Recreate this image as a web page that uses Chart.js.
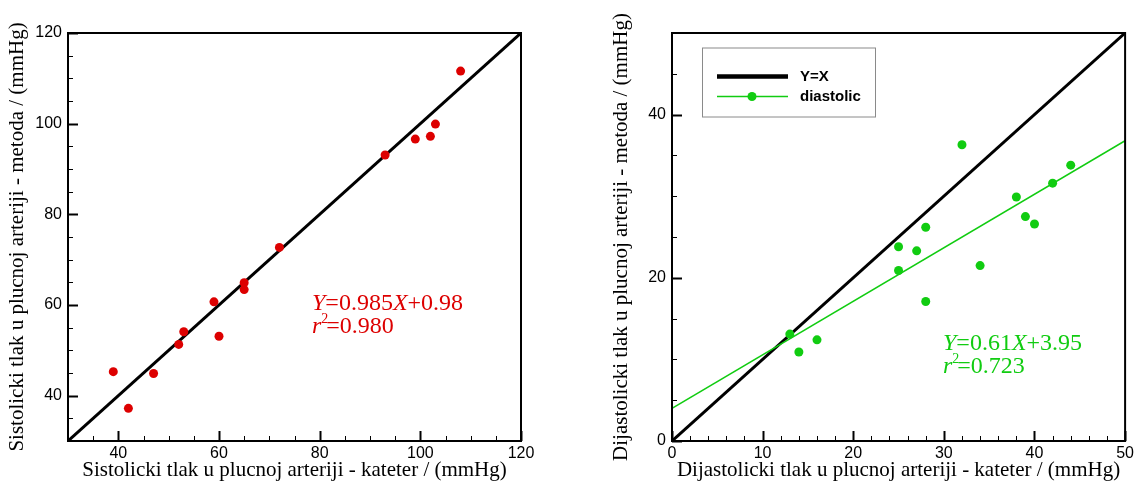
<!DOCTYPE html>
<html><head><meta charset="utf-8">
<script src="https://cdn.jsdelivr.net/npm/chart.js@4.4.1/dist/chart.umd.min.js"></script>
<style>
html,body{margin:0;padding:0;background:#fff;width:1137px;height:483px;overflow:hidden}
.box{position:absolute;top:0;height:483px}
#b1{left:0;width:570px}
#b2{left:570px;width:567px}
</style></head><body>
<div class="box" id="b1"><canvas id="c1"></canvas></div>
<div class="box" id="b2"><canvas id="c2"></canvas></div>
<script>
// ---- data ----
const sysKateter = [39, 42, 47, 52, 53, 59, 60, 65, 65, 72, 93, 99, 102, 103, 108];
const sysMetoda  = [45.3, 37.2, 44.9, 51.3, 54.1, 60.7, 53.1, 64.9, 63.4, 72.7, 93.1, 96.6, 97.2, 99.9, 111.6];
const diaKateter = [13, 14, 16, 25, 25, 27, 28, 28, 32, 34, 38, 39, 40, 42, 44];
const diaMetoda  = [13.1, 10.9, 12.4, 23.8, 20.9, 23.3, 26.2, 17.1, 36.3, 21.5, 29.9, 27.5, 26.6, 31.6, 33.8];
const sysIdentityX = [30, 120];
const sysIdentityY = [30, 120];
const diaIdentityX = [0, 50];
const diaIdentityY = [0, 50];
const diaFitX = [0, 50];
const diaFitY = [4.0, 36.8];
const sysXTicks = [40, 60, 80, 100, 120];
const sysYTicks = [40, 60, 80, 100, 120];
const diaXTicks = [0, 10, 20, 30, 40, 50];
const diaYTicks = [0, 20, 40];
const sysEquation = [['Y', true], ['=0.985', false], ['X', true], ['+0.98', false]];
const sysR2 = '=0.980';
const diaEquation = [['Y', true], ['=0.61', false], ['X', true], ['+3.95', false]];
const diaR2 = '=0.723';
const sysXTitle = 'Sistolicki tlak u plucnoj arteriji - kateter / (mmHg)';
const sysYTitle = 'Sistolicki tlak u plucnoj arteriji - metoda / (mmHg)';
const diaXTitle = 'Dijastolicki tlak u plucnoj arteriji - kateter / (mmHg)';
const diaYTitle = 'Dijastolicki tlak u plucnoj arteriji - metoda / (mmHg)';
const identityLabel = 'Y=X';
const diaLabel = 'diastolic';

// ---- styles ----
const RED = '#dd0000';
const GREEN = '#11cc11';
const SERIF = '"Liberation Serif", "Times New Roman", serif';
const SANS = '"Liberation Sans", Arial, sans-serif';

const pts = (xs, ys) => xs.map((x, i) => ({x: x, y: ys[i]}));

const boxTicks = {
  id: 'boxTicks',
  afterDatasetsDraw(chart, args, o) {
    const {ctx, chartArea: a, scales: {x, y}} = chart;
    ctx.save();
    ctx.strokeStyle = '#000';
    const eps = 1e-6;
    for (let v = x.min; v <= x.max + eps; v += o.xMinor) {
      const major = o.xMajor.some(m => Math.abs(m - v) < eps);
      const px = Math.round(x.getPixelForValue(v)) + 0.5;
      ctx.lineWidth = major ? 2 : 1;
      ctx.beginPath(); ctx.moveTo(px, a.bottom); ctx.lineTo(px, a.bottom - (major ? 10 : 5)); ctx.stroke();
    }
    for (let v = y.min; v <= y.max + eps; v += o.yMinor) {
      const major = o.yMajor.some(m => Math.abs(m - v) < eps);
      const py = Math.round(y.getPixelForValue(v)) + 0.5;
      ctx.lineWidth = major ? 2 : 1;
      ctx.beginPath(); ctx.moveTo(a.left, py); ctx.lineTo(a.left + (major ? 10 : 5), py); ctx.stroke();
    }
    ctx.lineWidth = 2;
    ctx.strokeRect(a.left, a.top, a.right - a.left, a.bottom - a.top);
    ctx.restore();
  }
};

function drawRich(ctx, parts, x, y, size) {
  let cx = x;
  parts.forEach(([t, it]) => {
    ctx.font = (it ? 'italic ' : '') + size + 'px ' + SERIF;
    ctx.fillText(t, cx, y);
    cx += ctx.measureText(t).width;
  });
}

const equationText = {
  id: 'equationText',
  afterDatasetsDraw(chart, args, o) {
    const {ctx, chartArea: a} = chart;
    ctx.save();
    ctx.fillStyle = o.color;
    ctx.textBaseline = 'alphabetic';
    ctx.textAlign = 'left';
    const x0 = a.left + o.dx, y0 = a.top + o.dy;
    drawRich(ctx, o.eq, x0, y0, 24);
    const y1 = y0 + 23;
    ctx.font = 'italic 24px ' + SERIF;
    ctx.fillText('r', x0, y1);
    let cx = x0 + ctx.measureText('r').width;
    ctx.font = '14px ' + SERIF;
    ctx.fillText('2', cx, y1 - 10);
    cx += ctx.measureText('2').width * 0.7;
    ctx.font = '24px ' + SERIF;
    ctx.fillText(o.r2, cx, y1);
    ctx.restore();
  }
};

const boxLegend = {
  id: 'boxLegend',
  afterDraw(chart, args, o) {
    if (!o.show) return;
    const {ctx, chartArea: a} = chart;
    const ds = chart.data.datasets;
    const L = a.left + 30, T = a.top + 14.5;
    ctx.save();
    ctx.strokeStyle = '#8a8a8a';
    ctx.lineWidth = 1;
    ctx.fillStyle = '#fff';
    ctx.fillRect(L, T, 174, 70);
    ctx.strokeRect(L + 0.5, T + 0.5, 173, 69);
    const idLine = ds.find(d => d.label === identityLabel);
    const sc = ds.find(d => d.label === diaLabel);
    ctx.strokeStyle = idLine.borderColor; ctx.lineWidth = 4.5;
    ctx.beginPath(); ctx.moveTo(L + 15, T + 29); ctx.lineTo(L + 86, T + 29); ctx.stroke();
    ctx.strokeStyle = sc.backgroundColor; ctx.lineWidth = 1.5;
    ctx.beginPath(); ctx.moveTo(L + 15, T + 49); ctx.lineTo(L + 86, T + 49); ctx.stroke();
    ctx.fillStyle = sc.backgroundColor;
    ctx.beginPath(); ctx.arc(L + 50, T + 49, 4.5, 0, Math.PI * 2); ctx.fill();
    ctx.fillStyle = '#000';
    ctx.font = 'bold 15px ' + SANS;
    ctx.textBaseline = 'middle';
    ctx.fillText(idLine.label, L + 98, T + 29);
    ctx.fillText(sc.label, L + 98, T + 49);
    ctx.restore();
  }
};

function axis(min, max, tickArr, title, isY, width) {
  const s = {
    type: 'linear', min: min, max: max,
    afterBuildTicks: sc => { sc.ticks = tickArr.map(v => ({value: v})); },
    grid: {display: false, drawTicks: false},
    border: {display: false},
    ticks: {color: '#000', font: {family: SANS, size: 16}, padding: isY ? 6 : 3, maxRotation: 0, autoSkip: false},
    title: {display: true, text: title, color: '#000', font: {family: SERIF, size: 21, lineHeight: 1.2},
            padding: isY ? {top: 5, bottom: 0} : {top: 0, bottom: 0}}
  };
  if (isY) s.afterFit = sc => { sc.width = width; };
  else s.afterFit = sc => { sc.height = 42; };
  return s;
}

function make(id, datasets, xs, ys, pad, tickOpts, eqOpts, legendShow) {
  return new Chart(document.getElementById(id), {
    type: 'scatter',
    data: {datasets: datasets},
    options: {
      responsive: true, maintainAspectRatio: false, animation: false,
      layout: {padding: pad},
      scales: {x: xs, y: ys},
      plugins: {legend: {display: false}, tooltip: {enabled: false},
        boxTicks: tickOpts, equationText: eqOpts, boxLegend: {show: legendShow}},
      elements: {line: {tension: 0}}
    },
    plugins: [boxTicks, equationText, boxLegend]
  });
}

make('c1', [
  {label: 'systolic', data: pts(sysKateter, sysMetoda), backgroundColor: RED, borderWidth: 0, pointRadius: 4.5, showLine: false},
  {label: identityLabel, data: pts(sysIdentityX, sysIdentityY), showLine: true, borderColor: '#000', borderWidth: 3, pointRadius: 0, backgroundColor: '#000'}
], axis(30, 120, sysXTicks, sysXTitle, false), axis(30, 120, sysYTicks, sysYTitle, true, 68),
  {left: 0, right: 49, top: 33, bottom: 0},
  {xMinor: 5, xMajor: sysXTicks, yMinor: 5, yMajor: sysYTicks},
  {color: RED, eq: sysEquation, r2: sysR2, dx: 244, dy: 277}, false);

make('c2', [
  {label: diaLabel, data: pts(diaKateter, diaMetoda), backgroundColor: GREEN, borderWidth: 0, pointRadius: 4.5, showLine: false},
  {label: 'fit', data: pts(diaFitX, diaFitY), showLine: true, borderColor: GREEN, borderWidth: 1.5, pointRadius: 0, backgroundColor: GREEN},
  {label: identityLabel, data: pts(diaIdentityX, diaIdentityY), showLine: true, borderColor: '#000', borderWidth: 3, pointRadius: 0, backgroundColor: '#000'}
], axis(0, 50, diaXTicks, diaXTitle, false), axis(0, 50, diaYTicks, diaYTitle, true, 68),
  {left: 34, right: 11, top: 33, bottom: 0},
  {xMinor: 2, xMajor: diaXTicks, yMinor: 5, yMajor: diaYTicks},
  {color: GREEN, eq: diaEquation, r2: diaR2, dx: 271, dy: 317}, true);
</script>
</body></html>
